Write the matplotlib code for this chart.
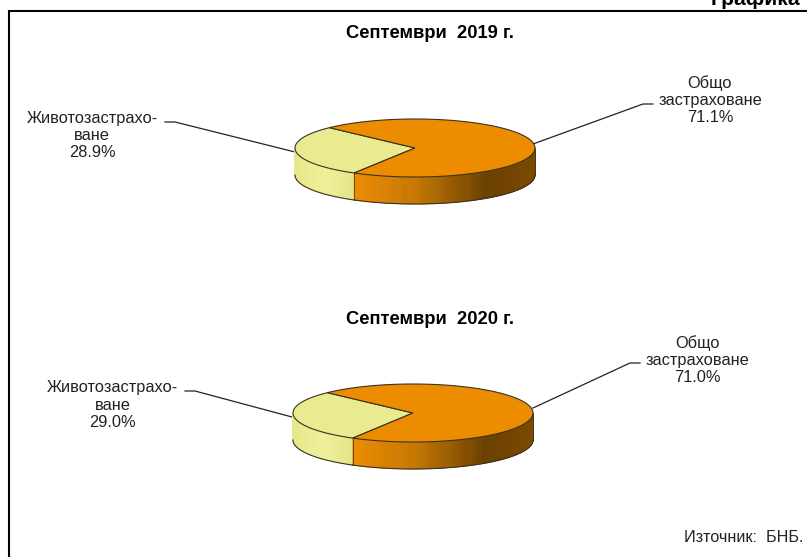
import matplotlib
matplotlib.use("Agg")
import matplotlib.pyplot as plt
import numpy as np
from matplotlib.colors import LinearSegmentedColormap
from matplotlib.patches import Polygon

plt.rcParams['font.family'] = ['Liberation Sans', 'DejaVu Sans']

periods = ["Септември  2019 г.", "Септември  2020 г."]
life_share = [28.9, 29.0]
general_share = [71.1, 71.0]
life_label = "Животозастрахо-\nване"
general_label = "Общо\nзастраховане"

# pixel layout of the two pies: centre, radii, wall height
centres = [(415, 148), (413, 413)]
radii = (120, 29)
depth = 27
start_angle = 135.5

title_pos = [(429.5, 34), (430, 319)]
life_text = [(92, 135.5), (112.5, 405)]
general_text = [(710, 100), (697, 360)]
life_leader = [[(165, 122), (175, 122), (295, 152)], [(185, 391), (195, 391), (292, 417)]]
general_leader = [[(653, 104), (643, 104), (533, 144)], [(640, 363), (630, 363), (533, 408)]]

orange = "#EE8C00"
yellow = "#EAEA90"
orange_wall = LinearSegmentedColormap.from_list(
    "o", [(0, "#EE8C00"), (0.35, "#C47500"), (0.73, "#6B4000"), (1, "#7A4A00")])
yellow_wall = LinearSegmentedColormap.from_list("y", ["#E6E68A", "#F0F09C", "#E4E488"])
edge = "#3a3320"


def ellipse_pts(cx, cy, a0, a1, n=120):
    t = np.radians(np.linspace(a0, a1, n))
    return cx + radii[0] * np.cos(t), cy - radii[1] * np.sin(t)


def draw_wall(ax, cx, cy, a0, a1, cmap):
    # only the front part of the rim is visible (180..360 degrees)
    a0, a1 = max(a0, 180), min(a1, 360)
    if a1 <= a0:
        return
    xs, ys = ellipse_pts(cx, cy, a0, a1, 240)
    for i in range(len(xs) - 1):
        quad = [(xs[i], ys[i]), (xs[i + 1], ys[i + 1]),
                (xs[i + 1], ys[i + 1] + depth), (xs[i], ys[i] + depth)]
        c = cmap((xs[i] - xs[0]) / (xs[-1] - xs[0]))
        ax.add_patch(Polygon(quad, closed=True, fc=c, ec=c, lw=0.5, zorder=2))
    ax.plot(xs, ys + depth, color=edge, lw=0.8, zorder=3)
    ax.plot([xs[-1], xs[-1]], [ys[-1], ys[-1] + depth], color=edge, lw=0.5, zorder=3)


fig = plt.figure(figsize=(8.07, 5.57), dpi=100)
ax = fig.add_axes([0, 0, 1, 1])
ax.set_xlim(0, 807)
ax.set_ylim(557, 0)
ax.axis('off')

# frame (open on the right and bottom)
ax.plot([9, 9, 807], [557, 11, 11], color="black", lw=1.5, solid_joinstyle='miter', zorder=1)
# the reference crops this heading at its top edge
ax.text(800, 5, "Графика", ha='right', va='baseline', fontsize=15.2, fontweight='bold', color="black")

for k in range(2):
    cx, cy = centres[k]
    sweep = life_share[k] / 100 * 360
    a_end = start_angle + sweep

    draw_wall(ax, cx, cy, start_angle, a_end, yellow_wall)
    draw_wall(ax, cx, cy, a_end, start_angle + 360, orange_wall)

    xs, ys = ellipse_pts(cx, cy, start_angle, a_end)
    ax.add_patch(Polygon(np.r_[[(cx, cy)], np.c_[xs, ys]], closed=True, fc=yellow, ec=edge, lw=0.8, zorder=4))
    xs, ys = ellipse_pts(cx, cy, a_end, start_angle + 360, 300)
    ax.add_patch(Polygon(np.r_[[(cx, cy)], np.c_[xs, ys]], closed=True, fc=orange, ec=edge, lw=0.8, zorder=4))

    ax.text(*title_pos[k], periods[k], ha='center', va='center', fontsize=13.2, fontweight='bold', color="black")
    ax.text(*life_text[k], f"{life_label}\n{life_share[k]:.1f}%", ha='center', va='center',
            fontsize=11.8, color="#222222", linespacing=1.2)
    ax.text(*general_text[k], f"{general_label}\n{general_share[k]:.1f}%", ha='center', va='center',
            fontsize=11.8, color="#222222", linespacing=1.2)
    for leader in (life_leader[k], general_leader[k]):
        lx, ly = zip(*leader)
        ax.plot(lx, ly, color="#222222", lw=0.9, zorder=1)

ax.text(803, 537, "Източник:  БНБ.", ha='right', va='center', fontsize=11.6, color="#222222")

fig.savefig("out.png", dpi=100)
